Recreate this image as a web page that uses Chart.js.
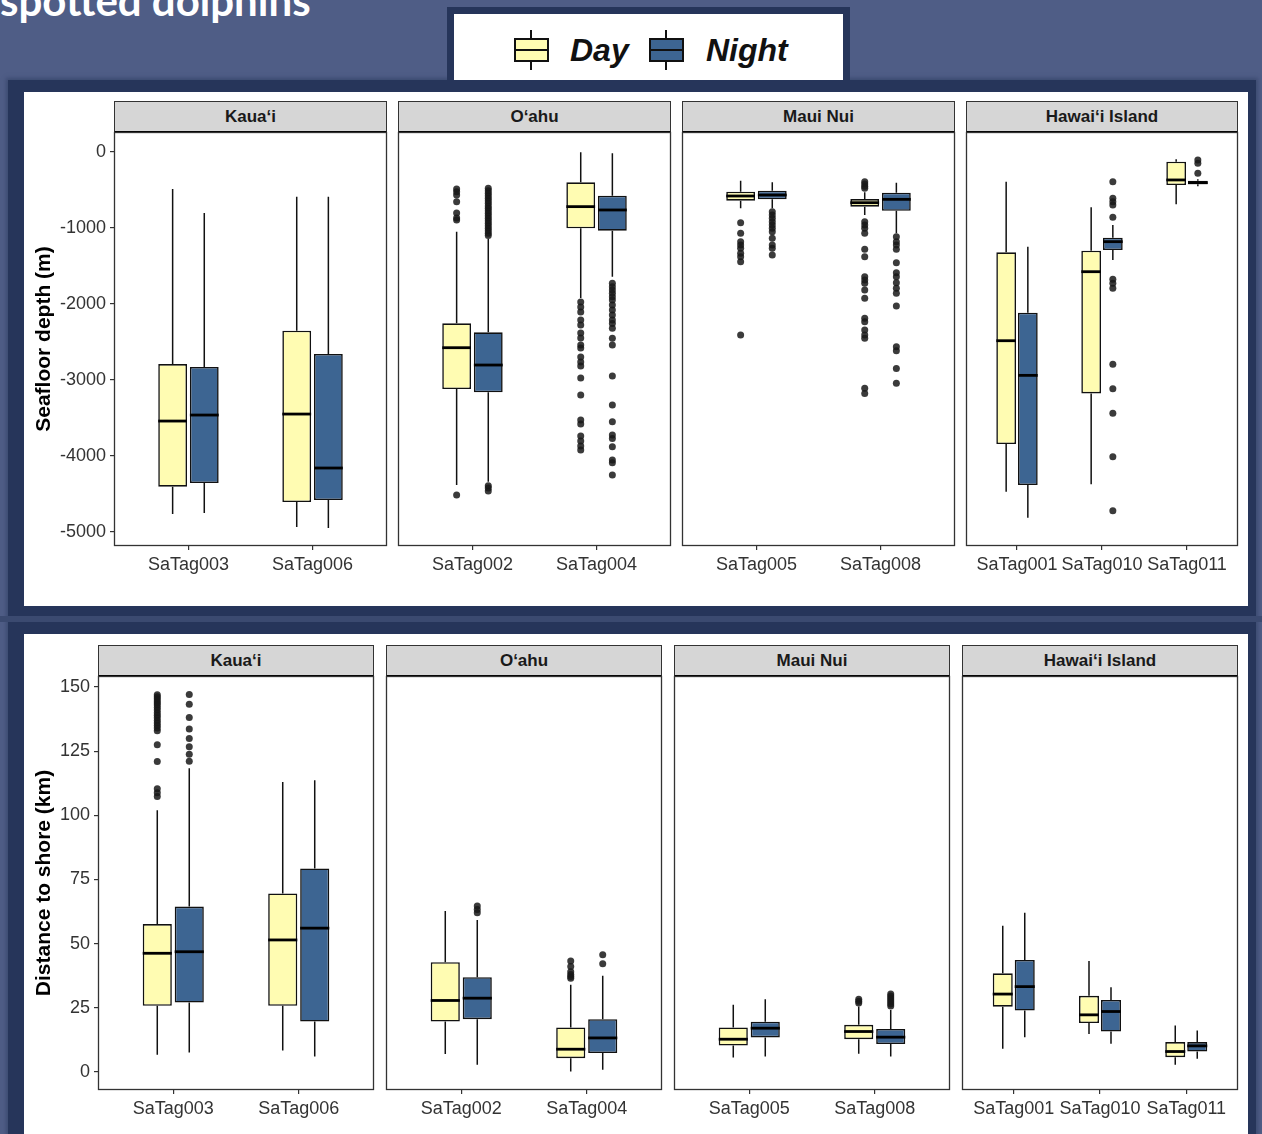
<!DOCTYPE html>
<html>
<head>
<meta charset="utf-8">
<script src="https://cdn.jsdelivr.net/npm/chart.js@4.4.0/dist/chart.umd.min.js"></script>
<style>
    body { margin: 0; width: 1262px; height: 1134px; overflow: hidden; position: relative; background: #4f5d86; font-family: "Liberation Sans", Arial, sans-serif; }
    .abs { position: absolute; }
    #title { left: 0; top: -20px; color: #fff; font-family: Lato, "Open Sans", sans-serif; font-weight: bold; font-size: 42px; line-height: 40px; white-space: nowrap; }
    #frame { left: 8px; top: 80px; width: 1248px; height: 1070px; background: #26355a; box-shadow: 0 0 4px 2px #3c4b71; }
    #gap { left: 0; top: 616px; width: 1262px; height: 6px; background: #3b4a70; }
    .panel { left: 24px; width: 1224px; background: #fff; }
    #legend { left: 447px; top: 7px; width: 403px; height: 80px; background: #fff; border: 7px solid #26355a; box-sizing: border-box; }
    .key { top: 24px; width: 35px; height: 24px; border: 2px solid #111; box-sizing: border-box; }
    .key .mid { position: absolute; left: 0; right: 0; top: 9px; height: 2px; background: #111; }
    .whisk { width: 2px; height: 8px; background: #111; }
    .keytext { top: 17px; font-size: 32px; line-height: 38px; font-weight: bold; font-style: italic; color: #111; }
    .strip { background: #d6d6d6; border: 1px solid #333; border-bottom: 2px solid #000; box-sizing: border-box; font-weight: bold; font-size: 17px; line-height: 29px; color: #1a1a1a; text-align: center; }
</style>
</head>
<body>
<div id="title" class="abs">spotted dolphins</div>
<div id="frame" class="abs"></div>
<div id="gap" class="abs"></div>
<div class="abs panel" style="top:92px;height:514px;"></div>
<div class="abs panel" style="top:634px;height:500px;"></div>
<div id="legend" class="abs">
    <div class="abs whisk" style="left:76px;top:16px;"></div>
    <div class="abs key" style="left:60px;background:#fffcb2;"><div class="mid"></div></div>
    <div class="abs whisk" style="left:76px;top:48px;"></div>
    <div class="abs keytext" style="left:116px;">Day</div>
    <div class="abs whisk" style="left:211px;top:16px;"></div>
    <div class="abs key" style="left:195px;background:#3d6592;"><div class="mid"></div></div>
    <div class="abs whisk" style="left:211px;top:48px;"></div>
    <div class="abs keytext" style="left:252px;">Night</div>
</div>
<div id="charts"></div>

<script>
    var regions = ["Kaua‘i", "O‘ahu", "Maui Nui", "Hawai‘i Island"];
    var tags = ["SaTag003", "SaTag006", "SaTag002", "SaTag004", "SaTag005", "SaTag008", "SaTag001", "SaTag010", "SaTag011"];
    var tagRegion = [0, 0, 1, 1, 2, 2, 3, 3, 3];
    var depthTicks = [0, -1000, -2000, -3000, -4000, -5000];
    var shoreTicks = [0, 25, 50, 75, 100, 125, 150];

    // [lower whisker, q1, median, q3, upper whisker]
    var depthDay = [
        [-4764, -4404, -3540, -2790, -487],
        [-4935, -4606, -3448, -2351, -588],
        [-4382, -3119, -2575, -2254, -1048],
        [-1920, -1005, -719, -399, -5],
        [-741, -640, -579, -522, -377],
        [-829, -719, -667, -619, -531],
        [-4470, -3843, -2483, -1320, -390],
        [-4373, -3176, -1575, -1298, -728],
        [-689, -434, -368, -127, -97]
    ];
    var depthNight = [
        [-4750, -4356, -3461, -2829, -803],
        [-4948, -4580, -4158, -2658, -588],
        [-4339, -3162, -2803, -2373, -1145],
        [-1641, -1035, -763, -575, -18],
        [-741, -623, -566, -509, -399],
        [-1070, -773, -623, -535, -404],
        [-4812, -4382, -2939, -2114, -1246],
        [-1421, -1290, -1180, -1127, -961],
        [-450, -425, -404, -377, -360]
    ];
    var depthDayOut = [
        [],
        [],
        [-487, -522, -566, -654, -803, -869, -895, -4514],
        [-1974, -2040, -2106, -2211, -2277, -2382, -2448, -2540, -2579, -2698, -2764, -2816, -2974, -3198, -3527, -3580, -3737, -3803, -3869, -3922],
        [-930, -1070, -1180, -1224, -1268, -1333, -1378, -1444, -2408],
        [-390, -420, -450, -478, -917, -961, -1004, -1070, -1281, -1378, -1641, -1684, -1728, -1816, -1925, -2189, -2233, -2342, -2408, -2452, -3110, -3176],
        [],
        [],
        []
    ];
    var depthNightOut = [
        [],
        [],
        [-478, -510, -544, -577, -610, -643, -676, -709, -741, -774, -807, -840, -873, -906, -939, -972, -1004, -1037, -1070, -1100, -4390, -4420, -4460],
        [-1728, -1773, -1816, -1860, -1904, -1948, -2013, -2079, -2145, -2211, -2255, -2320, -2452, -2540, -2948, -3329, -3549, -3724, -3768, -3878, -4053, -4088, -4251],
        [-785, -829, -873, -917, -961, -1004, -1048, -1136, -1224, -1268, -1355],
        [-1114, -1180, -1224, -1281, -1456, -1588, -1641, -1720, -1794, -1860, -2027, -2562, -2615, -2847, -3044],
        [],
        [-390, -610, -654, -698, -860, -1676, -1728, -1794, -2794, -3114, -3439, -4009, -4721],
        [-105, -149, -281]
    ];

    var shoreDay = [
        [6.6, 25.7, 46.2, 57.6, 102],
        [8.3, 25.7, 51.4, 69.5, 113],
        [6.9, 19.6, 27.8, 42.7, 62.7],
        [0.1, 5.3, 8.8, 17.3, 33.9],
        [5.6, 10.2, 12.7, 17.3, 26.1],
        [7, 12.7, 15.7, 18.3, 25.5],
        [9, 25.4, 30.3, 38.4, 56.9],
        [14.7, 19, 22.2, 29.6, 43.2],
        [2.7, 5.7, 7.9, 11.6, 18]
    ];
    var shoreNight = [
        [7.5, 27, 46.8, 64.4, 118.3],
        [6, 19.6, 56, 79.3, 113.7],
        [2.7, 20.5, 28.7, 36.9, 59.2],
        [0.8, 7.3, 13.2, 20.5, 37.4],
        [6, 13.4, 17, 19.5, 28.3],
        [6, 10.8, 13.5, 16.7, 24.1],
        [13.5, 23.9, 33.2, 43.6, 62],
        [10.9, 15.7, 23.5, 28, 33],
        [5.1, 7.9, 10.1, 11.6, 16.1]
    ];
    var shoreDayOut = [
        [147, 146.2, 145.4, 144.6, 143.8, 143, 142, 141, 140, 139, 138, 137, 136, 135, 134, 133, 127.5, 121, 110.3, 108.8, 107.3],
        [],
        [],
        [43.2, 41, 39, 37.9, 37.1, 36.5],
        [],
        [26.8, 27.5, 28.3],
        [],
        [],
        []
    ];
    var shoreNightOut = [
        [147.1, 143.3, 138.1, 133.6, 129.9, 126.7, 123.8, 121.1],
        [],
        [64.6, 63.3, 62],
        [45.6, 42.1],
        [],
        [25.6, 26.4, 27.2, 28, 28.8, 29.5, 30.3],
        [],
        [],
        []
    ];

    var dayColor = "#fffcb2";
    var nightColor = "#3d6592";
    var textFont = "'Liberation Sans', Arial, sans-serif";

    var rows = [
        {
            title: "Seafloor depth (m)", day: depthDay, night: depthNight, dayOut: depthDayOut, nightOut: depthNightOut,
            min: -5184, max: 263, ticks: depthTicks,
            plotTop: 132, lefts: [114, 398, 682, 966], rights: [387, 671, 955, 1238]
        },
        {
            title: "Distance to shore (km)", day: shoreDay, night: shoreNight, dayOut: shoreDayOut, nightOut: shoreNightOut,
            min: -7.1, max: 154.3, ticks: shoreTicks,
            plotTop: 676, lefts: [98, 386, 674, 962], rights: [374, 662, 950, 1238]
        }
    ];
    var plotHeight = 414;
    var padTop = 16;
    var xAxisHeight = 40;

    // whiskers, medians and outliers on top of the floating bars
    var boxExtras = {
        id: "boxExtras",
        afterDatasetsDraw: function (chart) {
            var ctx = chart.ctx;
            var y = chart.scales.y;
            chart.data.datasets.forEach(function (ds, d) {
                var meta = chart.getDatasetMeta(d);
                meta.data.forEach(function (bar, i) {
                    var s = ds.stats[i];
                    var half = bar.width / 2;
                    ctx.save();
                    ctx.strokeStyle = "#111";
                    ctx.lineWidth = 1.5;
                    ctx.beginPath();
                    ctx.moveTo(bar.x, y.getPixelForValue(s.hi));
                    ctx.lineTo(bar.x, y.getPixelForValue(s.q3));
                    ctx.moveTo(bar.x, y.getPixelForValue(s.q1));
                    ctx.lineTo(bar.x, y.getPixelForValue(s.lo));
                    ctx.stroke();
                    ctx.strokeStyle = "#000";
                    ctx.lineWidth = 2.8;
                    ctx.beginPath();
                    ctx.moveTo(bar.x - half, y.getPixelForValue(s.med));
                    ctx.lineTo(bar.x + half, y.getPixelForValue(s.med));
                    ctx.stroke();
                    ctx.fillStyle = "rgba(25,25,25,0.85)";
                    s.out.forEach(function (v) {
                        ctx.beginPath();
                        ctx.arc(bar.x, y.getPixelForValue(v), 3.5, 0, Math.PI * 2);
                        ctx.fill();
                    });
                    ctx.restore();
                });
            });
        }
    };

    var panelFrame = {
        id: "panelFrame",
        afterDraw: function (chart) {
            var a = chart.chartArea;
            var ctx = chart.ctx;
            ctx.save();
            ctx.strokeStyle = "#333";
            ctx.lineWidth = 1.3;
            ctx.strokeRect(a.left + 0.5, a.top + 0.5, a.right - a.left - 1, a.bottom - a.top - 1);
            ctx.restore();
        }
    };

    function makeDataset(label, color, stats, outs, idx) {
        return {
            label: label,
            data: idx.map(function (t, i) { return { x: i, y: [stats[t][1], stats[t][3]] }; }),
            stats: idx.map(function (t) {
                return { lo: stats[t][0], q1: stats[t][1], med: stats[t][2], q3: stats[t][3], hi: stats[t][4], out: outs[t] };
            }),
            backgroundColor: color,
            borderColor: "#111",
            borderWidth: 1.6,
            borderSkipped: false
        };
    }

    function makeFacet(row, f) {
        var idx = [];
        tagRegion.forEach(function (r, i) { if (r === f) idx.push(i); });
        var labels = idx.map(function (i) { return tags[i]; });
        var first = f === 0;
        var L = row.lefts[f], R = row.rights[f];
        var canvasLeft = first ? 24 : L - 4;
        var W = R + 4 - canvasLeft;
        var H = plotHeight + padTop + xAxisHeight;

        var strip = document.createElement("div");
        strip.className = "abs strip";
        strip.style.left = L + "px";
        strip.style.top = (row.plotTop - 31) + "px";
        strip.style.width = (R - L) + "px";
        strip.style.height = "32px";
        strip.textContent = regions[f];
        document.getElementById("charts").appendChild(strip);

        var canvas = document.createElement("canvas");
        canvas.className = "abs";
        canvas.width = W;
        canvas.height = H;
        canvas.style.left = canvasLeft + "px";
        canvas.style.top = (row.plotTop - padTop) + "px";
        document.getElementById("charts").appendChild(canvas);

        return new Chart(canvas, {
            type: "bar",
            data: {
                datasets: [
                    makeDataset("Day", dayColor, row.day, row.dayOut, idx),
                    makeDataset("Night", nightColor, row.night, row.nightOut, idx)
                ]
            },
            options: {
                responsive: false,
                animation: false,
                devicePixelRatio: 1,
                layout: { padding: { top: padTop, left: first ? 0 : 4, right: 4, bottom: 0 } },
                plugins: { legend: { display: false }, tooltip: { enabled: false } },
                datasets: { bar: { categoryPercentage: 0.51, barPercentage: 0.91 } },
                scales: {
                    x: {
                        type: "linear",
                        min: -0.6,
                        max: labels.length - 0.4,
                        bounds: "data",
                        offset: false,
                        grid: { offset: false, drawOnChartArea: false, drawTicks: true, tickLength: 4, color: "#333", lineWidth: 1.2 },
                        border: { display: false },
                        afterBuildTicks: function (scale) {
                            scale.ticks = labels.map(function (l, i) { return { value: i }; });
                        },
                        afterFit: function (scale) { scale.height = xAxisHeight; },
                        ticks: {
                            autoSkip: false,
                            maxRotation: 0,
                            padding: 4,
                            color: "#333",
                            font: { family: textFont, size: 18 },
                            callback: function (v) { return labels[v]; }
                        }
                    },
                    y: {
                        display: first,
                        min: row.min,
                        max: row.max,
                        bounds: "data",
                        beginAtZero: false,
                        grid: { drawOnChartArea: false, drawTicks: true, tickLength: 4, color: "#333", lineWidth: 1.2 },
                        border: { display: false },
                        afterBuildTicks: function (scale) {
                            scale.ticks = row.ticks.map(function (v) { return { value: v }; });
                        },
                        afterFit: function (scale) {
                            if (first) scale.width = L - 24;
                        },
                        ticks: {
                            padding: 4,
                            color: "#333",
                            font: { family: textFont, size: 18 },
                            callback: function (v) { return String(v); }
                        },
                        title: {
                            display: true,
                            text: row.title,
                            color: "#000",
                            padding: { top: 8, bottom: 0 },
                            font: { family: textFont, size: 21, weight: "bold" }
                        }
                    }
                }
            },
            plugins: [boxExtras, panelFrame]
        });
    }

    window.addEventListener("load", function () {
        rows.forEach(function (row) {
            for (var f = 0; f < regions.length; f++) {
                makeFacet(row, f);
            }
        });
    });
</script>
</body>
</html>
